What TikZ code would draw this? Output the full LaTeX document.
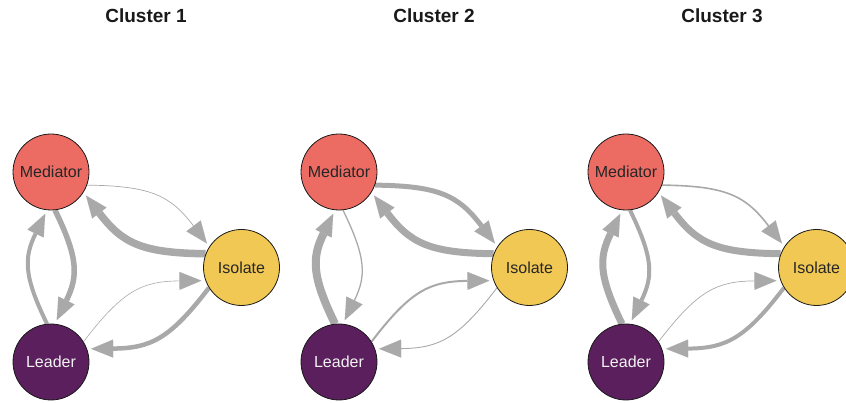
\documentclass[tikz,border=0pt]{standalone}
\usepackage{fontspec}
\setsansfont{Liberation Sans}
\usetikzlibrary{arrows.meta,backgrounds}
\definecolor{medcol}{HTML}{EC6C64}
\definecolor{isocol}{HTML}{F1C853}
\definecolor{leacol}{HTML}{5A1F5C}
\definecolor{linkgray}{HTML}{A9A9A9}
\tikzstyle{role} = [circle, draw=black!90, line width=0.8pt, minimum size=76pt,
    inner sep=0pt, font=\sffamily\fontsize{16}{19}\selectfont]
\tikzstyle{mediator} = [role, fill=medcol, text=black!85]
\tikzstyle{isolate} = [role, fill=isocol, text=black!85]
\tikzstyle{leader} = [role, fill=leacol, text=white!95!black]
\tikzstyle{title} = [font=\sffamily\bfseries\fontsize{19}{22}\selectfont, text=black!90]
\tikzstyle{link} = [draw=linkgray, ->, bend left=26, looseness=1.2, shorten >=4pt]

\begin{document}
\begin{tikzpicture}[x=1pt,y=1pt,
                    >={Triangle[length=22pt,width=18pt,line width=0.01pt]}]
  \useasboundingbox (0,0) rectangle (846,403);

  \node[title]    (t1)   at (146,387)   {Cluster 1};
  \node[title]    (t2)   at (434,387)   {Cluster 2};
  \node[title]    (t3)   at (722,387)   {Cluster 3};

  \node[mediator] (med1) at (51,231)    {Mediator};
  \node[isolate]  (iso1) at (241.5,135.5) {Isolate};
  \node[leader]   (lea1) at (51,41)     {Leader};

  \node[mediator] (med2) at (339,231)   {Mediator};
  \node[isolate]  (iso2) at (529.5,135.5) {Isolate};
  \node[leader]   (lea2) at (339,41)    {Leader};

  \node[mediator] (med3) at (626,231)   {Mediator};
  \node[isolate]  (iso3) at (816.5,135.5) {Isolate};
  \node[leader]   (lea3) at (626,41)    {Leader};

  \begin{scope}[on background layer]
  \path (med1.-20.6) edge[link, line width=0.7pt] (iso1.147.4)
        (iso1.159.4) edge[link, line width=7.5pt] (med1.-32.6)
        (med1.-84)   edge[link, line width=5.5pt] (lea1.84)
        (lea1.96)    edge[link, line width=4pt]   (med1.264)
        (lea1.32.6)  edge[link, line width=0.6pt] (iso1.200.6)
        (iso1.212.6) edge[link, line width=4.5pt] (lea1.20.6);

  \path (med2.-20.6) edge[link, line width=5pt]   (iso2.147.4)
        (iso2.159.4) edge[link, line width=7pt]   (med2.-32.6)
        (med2.-84)   edge[link, line width=1.3pt] (lea2.84)
        (lea2.96)    edge[link, line width=8pt]   (med2.264)
        (lea2.32.6)  edge[link, line width=2pt]   (iso2.200.6)
        (iso2.212.6) edge[link, line width=0.9pt] (lea2.20.6);

  \path (med3.-20.6) edge[link, line width=1.6pt] (iso3.147.4)
        (iso3.159.4) edge[link, line width=7pt]   (med3.-32.6)
        (med3.-84)   edge[link, line width=4pt]   (lea3.84)
        (lea3.96)    edge[link, line width=7pt]   (med3.264)
        (lea3.32.6)  edge[link, line width=0.7pt] (iso3.200.6)
        (iso3.212.6) edge[link, line width=4pt]   (lea3.20.6);
  \end{scope}
\end{tikzpicture}
\end{document}
